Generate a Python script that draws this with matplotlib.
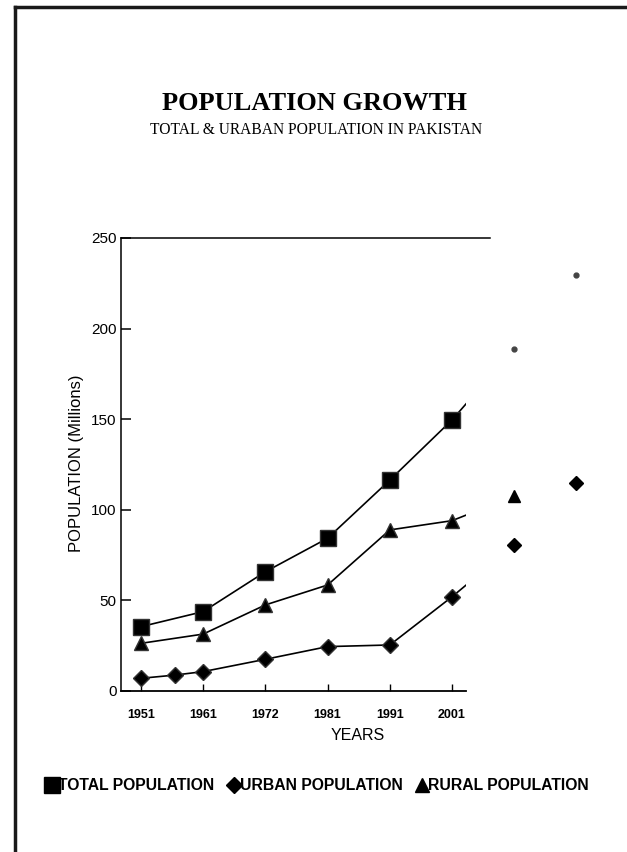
import matplotlib
matplotlib.use("Agg")
import matplotlib.pyplot as plt
from matplotlib.lines import Line2D
from matplotlib.patches import Rectangle

# ---- data ----
years = ["1951", "1961", "1972", "1981", "1991", "2001"]
total_x = [0, 1, 2, 3, 4, 5, 6, 7]
total_pop = [35.5, 43.8, 65.8, 84.3, 116.4, 149.6, 189, 229.6]
urban_x = [0, 0.55, 1, 2, 3, 4, 5, 6, 7]
urban_pop = [7.0, 8.8, 10.7, 17.5, 24.5, 25.4, 52.0, 80.6, 115.0]
rural_x = [0, 1, 2, 3, 4, 5, 6]
rural_pop = [26.3, 31.4, 47.5, 58.5, 88.9, 94.0, 107.6]
yticks = [0, 50, 100, 150, 200, 250]

W, H = 627, 852
fig = plt.figure(figsize=(W / 100, H / 100), dpi=100)
fig.patch.set_facecolor("white")

def fx(px):
    return px / W

def fy(py):
    return 1 - py / H

# page frame (top & left)
fig.add_artist(Line2D([fx(15), 1.0], [fy(7), fy(7)], color="#1a1a1a", lw=2.5,
                      transform=fig.transFigure))
fig.add_artist(Line2D([fx(15), fx(15)], [fy(7), 0.0], color="#1a1a1a", lw=2.5,
                      transform=fig.transFigure))

ax = fig.add_axes([fx(121), fy(691), fx(490) - fx(121), fy(238) - fy(691)])
ax.set_xlim(-0.32, 5.61)
ax.set_ylim(0, 250)

clip = Rectangle((-0.32, -5), 5.55, 260, transform=ax.transData)

sans = "Liberation Sans"
serif = "Liberation Serif"

for xs, ys, m, ms in [(total_x, total_pop, "s", 11),
                      (rural_x, rural_pop, "^", 10),
                      (urban_x, urban_pop, "D", 8.5)]:
    ln, = ax.plot(xs, ys, color="black", lw=1.2, zorder=2)
    ln.set_clip_path(clip)
    inside = [(x, y) for x, y in zip(xs, ys) if x <= 5]
    outside = [(x, y) for x, y in zip(xs, ys) if x > 5]
    ax.plot([p[0] for p in inside], [p[1] for p in inside], ls="none",
            marker=m, ms=ms, color="black", mec="#333333", zorder=3)
    if outside:
        if m == "s":
            ax.plot([p[0] for p in outside], [p[1] for p in outside], ls="none",
                    marker="o", ms=3.5, color="#444444", clip_on=False, zorder=3)
        else:
            ax.plot([p[0] for p in outside], [p[1] for p in outside], ls="none",
                    marker=m, ms=ms - 1, color="black", clip_on=False, zorder=3)

for s in ["right", "bottom"]:
    ax.spines[s].set_visible(False)
ax.spines["left"].set_linewidth(1.1)
ax.spines["top"].set_linewidth(1.1)
ax.axhline(0, xmin=0, xmax=(5.22 + 0.32) / 5.93, color="black", lw=1.3, clip_on=False)

ax.set_yticks(yticks)
ax.set_yticklabels([str(v) for v in yticks], fontsize=11, fontfamily=sans)
ax.tick_params(axis="y", direction="in", length=7, width=1.1, pad=3)
ax.set_xticks(range(len(years)))
ax.set_xticklabels(years, fontsize=9, fontweight="bold", fontfamily=sans)
ax.tick_params(axis="x", direction="in", length=5, width=1.0, pad=13)

fig.text(fx(76), fy(463), "POPULATION (Millions)", rotation=90, ha="center",
         va="center", fontsize=12, fontfamily=sans)
fig.text(fx(358), fy(735), "YEARS", ha="center", va="center", fontsize=11.5,
         fontfamily=sans)

fig.text(fx(315), fy(103), "POPULATION GROWTH", ha="center", va="center",
         fontsize=19, fontweight="bold", fontfamily=serif)
fig.text(fx(316), fy(130), "TOTAL & URABAN POPULATION IN PAKISTAN", ha="center",
         va="center", fontsize=11.2, fontfamily=serif)

handles = [Line2D([], [], ls="none", marker="s", ms=11, color="black"),
           Line2D([], [], ls="none", marker="D", ms=8, color="black"),
           Line2D([], [], ls="none", marker="^", ms=10, color="black")]
labels = ["TOTAL POPULATION", "URBAN POPULATION", "RURAL POPULATION"]
fig.legend(handles, labels, loc="center", bbox_to_anchor=(fx(318), fy(786)),
           ncol=3, frameon=False, handlelength=0.6, handletextpad=0.1,
           columnspacing=0.9, prop={"family": sans, "weight": "bold", "size": 11.3})

fig.savefig("out.png", dpi=100)
